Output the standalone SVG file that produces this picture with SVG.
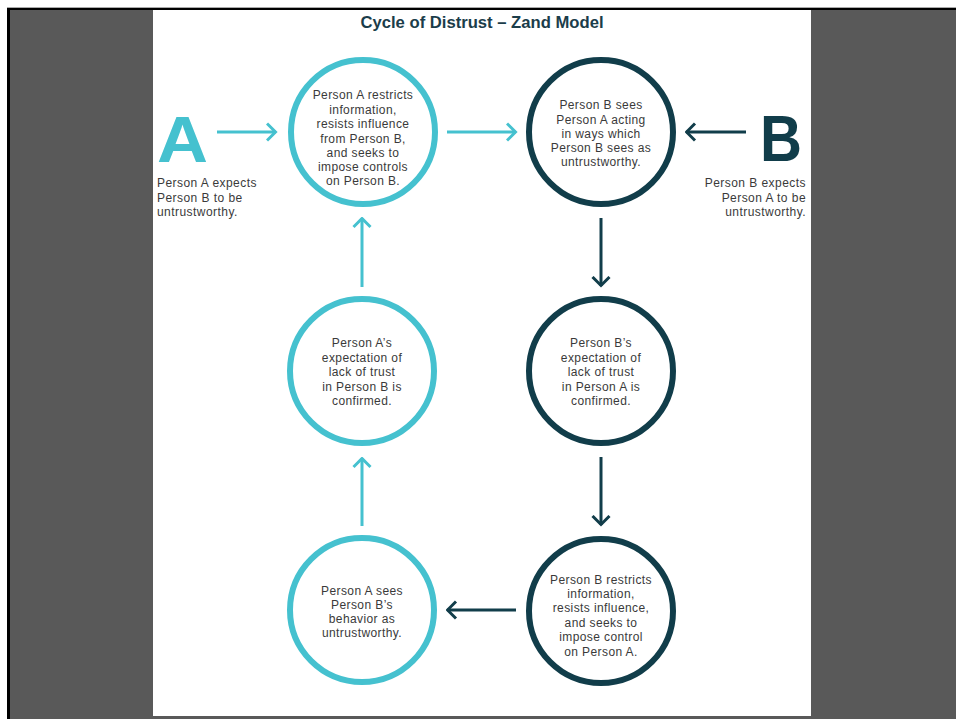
<svg xmlns="http://www.w3.org/2000/svg" width="956" height="719" viewBox="0 0 956 719">
<style>
.lbl{font-family:"Liberation Sans",Arial,sans-serif;font-size:12px;letter-spacing:0.4px;fill:#3a3a3a;text-anchor:middle}
.side{font-family:"Liberation Sans",Arial,sans-serif;font-size:12px;letter-spacing:0.45px;fill:#3a3a3a}
.ct{fill:#ffffff;stroke:#45c1cf;stroke-width:6}
.cn{fill:#ffffff;stroke:#113d4a;stroke-width:6}
.at{fill:none;stroke:#45c1cf;stroke-width:3}
.an{fill:none;stroke:#113d4a;stroke-width:3}
.big{font-family:"Liberation Sans","DejaVu Sans",sans-serif;font-weight:bold;font-size:65px}
</style>
<defs>
<marker id="mt" viewBox="0 0 12 20" refX="10.5" refY="10" markerWidth="12" markerHeight="20" markerUnits="userSpaceOnUse" orient="auto">
<path d="M1.5,1.5 L10,10 L1.5,18.5" fill="none" stroke="#45c1cf" stroke-width="3"/>
</marker>
<marker id="mn" viewBox="0 0 12 20" refX="10.5" refY="10" markerWidth="12" markerHeight="20" markerUnits="userSpaceOnUse" orient="auto">
<path d="M1.5,1.5 L10,10 L1.5,18.5" fill="none" stroke="#113d4a" stroke-width="3"/>
</marker>
</defs>
<g id="frame">
<rect x="0" y="0" width="956" height="719" fill="#ffffff"/>
<rect x="7" y="7" width="949" height="712" fill="#000000"/>
<rect x="7" y="7" width="949" height="1" fill="#aaaaaa"/>
<rect x="10" y="10" width="946" height="709" fill="#595959"/>
<rect x="153" y="10" width="658" height="706" fill="#ffffff"/>
</g>
<text id="title" x="482" y="28" text-anchor="middle" font-family="Liberation Sans, Arial, sans-serif" font-weight="bold" font-size="16" fill="#1b3d4a" textLength="243" lengthAdjust="spacingAndGlyphs">Cycle of Distrust – Zand Model</text>
<g id="connectors">
<line class="at" x1="217" y1="132" x2="276" y2="132" marker-end="url(#mt)"/>
<line class="at" x1="447" y1="132" x2="516" y2="132" marker-end="url(#mt)"/>
<line class="an" x1="746" y1="132" x2="686" y2="132" marker-end="url(#mn)"/>
<line class="an" x1="601" y1="218" x2="601" y2="286" marker-end="url(#mn)"/>
<line class="an" x1="601" y1="457" x2="601" y2="525" marker-end="url(#mn)"/>
<line class="an" x1="516" y1="610" x2="447" y2="610" marker-end="url(#mn)"/>
<line class="at" x1="362" y1="526" x2="362" y2="458" marker-end="url(#mt)"/>
<line class="at" x1="362" y1="287" x2="362" y2="218" marker-end="url(#mt)"/>
</g>
<g id="personA">
<text class="big" x="157" y="162" fill="#45c1cf" textLength="51" lengthAdjust="spacingAndGlyphs">A</text>
<text class="side" x="157" y="187">Person A expects</text>
<text class="side" x="157" y="202">Person B to be</text>
<text class="side" x="157" y="216">untrustworthy.</text>
</g>
<g id="personB">
<text class="big" x="760" y="161" fill="#113d4a" textLength="42" lengthAdjust="spacingAndGlyphs">B</text>
<text class="side" x="806" y="187" text-anchor="end">Person B expects</text>
<text class="side" x="806" y="202" text-anchor="end">Person A to be</text>
<text class="side" x="806" y="216" text-anchor="end">untrustworthy.</text>
</g>
<g id="a-restricts">
<circle class="ct" cx="363" cy="132" r="72"/>
<text class="lbl" x="363" y="99">Person A restricts</text>
<text class="lbl" x="363" y="114">information,</text>
<text class="lbl" x="363" y="128">resists influence</text>
<text class="lbl" x="363" y="143">from Person B,</text>
<text class="lbl" x="363" y="157">and seeks to</text>
<text class="lbl" x="363" y="171">impose controls</text>
<text class="lbl" x="363" y="185">on Person B.</text>
</g>
<g id="b-sees">
<circle class="cn" cx="601" cy="132" r="72"/>
<text class="lbl" x="601" y="109">Person B sees</text>
<text class="lbl" x="601" y="124">Person A acting</text>
<text class="lbl" x="601" y="138">in ways which</text>
<text class="lbl" x="601" y="152">Person B sees as</text>
<text class="lbl" x="601" y="166">untrustworthy.</text>
</g>
<g id="a-confirmed">
<circle class="ct" cx="362" cy="371" r="72"/>
<text class="lbl" x="362" y="347">Person A’s</text>
<text class="lbl" x="362" y="362">expectation of</text>
<text class="lbl" x="362" y="376">lack of trust</text>
<text class="lbl" x="362" y="391">in Person B is</text>
<text class="lbl" x="362" y="405">confirmed.</text>
</g>
<g id="b-confirmed">
<circle class="cn" cx="601" cy="371" r="72"/>
<text class="lbl" x="601" y="347">Person B’s</text>
<text class="lbl" x="601" y="362">expectation of</text>
<text class="lbl" x="601" y="376">lack of trust</text>
<text class="lbl" x="601" y="391">in Person A is</text>
<text class="lbl" x="601" y="405">confirmed.</text>
</g>
<g id="a-sees">
<circle class="ct" cx="362" cy="610" r="72"/>
<text class="lbl" x="362" y="595">Person A sees</text>
<text class="lbl" x="362" y="609">Person B’s</text>
<text class="lbl" x="362" y="623">behavior as</text>
<text class="lbl" x="362" y="637">untrustworthy.</text>
</g>
<g id="b-restricts">
<circle class="cn" cx="601" cy="611" r="72"/>
<text class="lbl" x="601" y="584">Person B restricts</text>
<text class="lbl" x="601" y="598">information,</text>
<text class="lbl" x="601" y="612">resists influence,</text>
<text class="lbl" x="601" y="627">and seeks to</text>
<text class="lbl" x="601" y="641">impose control</text>
<text class="lbl" x="601" y="656">on Person A.</text>
</g>
</svg>
